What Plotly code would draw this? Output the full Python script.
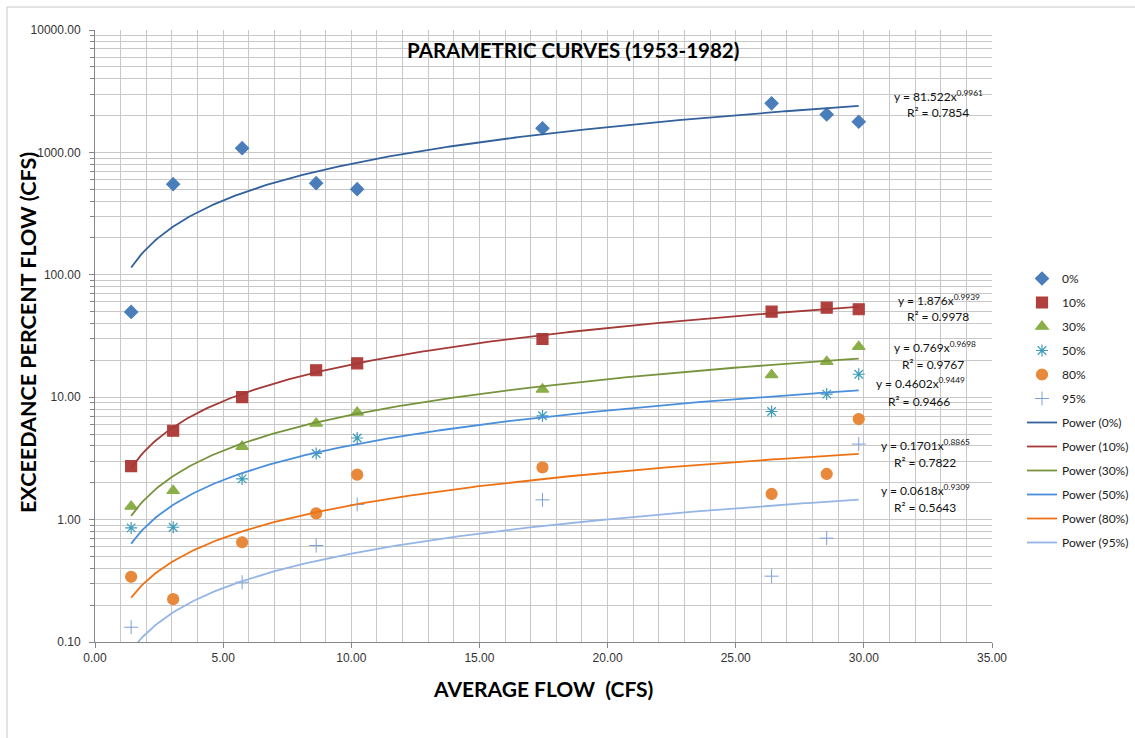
import numpy as np
import plotly.graph_objects as go

# ---------------- data ----------------
AVG_FLOW = [1.41, 3.05, 5.74, 8.63, 10.23, 17.46, 26.40, 28.55, 29.80]
P0 = [49.7, 550, 1082, 561, 501, 1575, 2519, 2040, 1780]
P10 = [2.73, 5.32, 10.0, 16.6, 18.9, 29.9, 50.0, 53.9, 52.3]
P30 = [1.28, 1.72, 3.95, 6.1, 7.5, 11.6, 15.2, 19.5, 25.9]
P50 = [0.855, 0.866, 2.15, 3.47, 4.64, 7.05, 7.64, 10.6, 15.4]
P80 = [0.341, 0.224, 0.653, 1.125, 2.33, 2.67, 1.62, 2.36, 6.63]
P95 = [0.132, None, 0.308, 0.614, 1.33, 1.45, 0.345, 0.705, 4.14]

SERIES_NAMES = ["0%", "10%", "30%", "50%", "80%", "95%"]
SERIES_VALUES = [P0, P10, P30, P50, P80, P95]
FIT_COEF = [81.522, 1.876, 0.769, 0.4602, 0.1701, 0.0618]
FIT_EXP = [0.9961, 0.9939, 0.9698, 0.9449, 0.8865, 0.9309]
FIT_R2 = ["0.7854", "0.9978", "0.9767", "0.9466", "0.7822", "0.5643"]

X_TICKS = [0, 5, 10, 15, 20, 25, 30, 35]
Y_TICKS = [0.1, 1, 10, 100, 1000, 10000]

# ---------------- styles ----------------
MARKER_SYMBOLS = ["diamond", "square", "triangle-up", "asterisk-open", "circle", "cross-thin-open"]
MARKER_COLORS = ["#4A7EBB", "#B0403D", "#8BAF48", "#3E9DBB", "#E8883A", "#7F9FD8"]
MARKER_SIZES = [10, 11, 11, 10, 11, 10]
MARKER_LW = [1.2, 1.2, 1.2, 1.2, 1.2, 1.0]
LINE_COLORS = ["#33619C", "#A33A37", "#77933C", "#4A8FDC", "#EE7214", "#94B5E6"]

# plot area in pixels
L, R, T, B = 95, 992, 30, 642
W, H = 1135, 738


def pxx(p):
    return (p - L) / (R - L)


def pxy(p):
    return (B - p) / (B - T)


fig = go.Figure()

for i, name in enumerate(SERIES_NAMES):
    fig.add_trace(go.Scatter(
        x=AVG_FLOW, y=SERIES_VALUES[i], mode="markers", name=name,
        legendgroup="m" + name,
        marker=dict(symbol=MARKER_SYMBOLS[i], size=MARKER_SIZES[i], color=MARKER_COLORS[i],
                    line=dict(width=MARKER_LW[i], color=MARKER_COLORS[i])),
    ))

x_fit = np.linspace(min(AVG_FLOW), max(AVG_FLOW), 300)
for i, name in enumerate(SERIES_NAMES):
    fig.add_trace(go.Scatter(
        x=x_fit, y=FIT_COEF[i] * x_fit ** FIT_EXP[i], mode="lines",
        name=f"Power ({name})", legendgroup="l" + name,
        line=dict(color=LINE_COLORS[i], width=1.8),
    ))

# equation labels (pixel positions of left edges / centres)
EQ_POS = [(892, 96, 905, 113), (896, 300, 905, 316), (892, 347, 900, 364),
          (874, 383, 886, 401), (879, 445, 892, 463), (879, 490, 892, 507)]
EQ_FONT = dict(family="Lato, Liberation Sans", size=12, color="#111")
annotations = []
for i in range(6):
    ex, ey, rx, ry = EQ_POS[i]
    annotations.append(dict(
        x=pxx(ex), y=pxy(ey), xref="paper", yref="paper", xanchor="left", yanchor="middle",
        text=f"y = {FIT_COEF[i]}x<sup>{FIT_EXP[i]}</sup>", showarrow=False, font=EQ_FONT))
    annotations.append(dict(
        x=pxx(rx), y=pxy(ry), xref="paper", yref="paper", xanchor="left", yanchor="middle",
        text=f"R² = {FIT_R2[i]}", showarrow=False, font=EQ_FONT))

annotations.append(dict(
    x=pxx(573), y=pxy(50), xref="paper", yref="paper", xanchor="center", yanchor="middle",
    text="<b>PARAMETRIC CURVES (1953-1982)</b>", showarrow=False,
    font=dict(family="Lato", size=20.5, color="#000")))
annotations.append(dict(
    x=pxx(543), y=pxy(688), xref="paper", yref="paper", xanchor="center", yanchor="middle",
    text="<b>AVERAGE FLOW\u00a0 (CFS)</b>", showarrow=False,
    font=dict(family="Lato", size=21, color="#000")))
annotations.append(dict(
    x=pxx(28), y=pxy(333), xref="paper", yref="paper", xanchor="center", yanchor="middle",
    text="<b>EXCEEDANCE PERCENT FLOW (CFS)</b>", showarrow=False, textangle=-90,
    font=dict(family="Lato", size=21.5, color="#000")))

fig.update_layout(
    width=W, height=H,
    margin=dict(l=L, r=W - R, t=T, b=H - B, autoexpand=False),
    paper_bgcolor="white", plot_bgcolor="white",
    showlegend=True,
    legend=dict(x=pxx(1022), y=pxy(264), xanchor="left", yanchor="top",
                font=dict(family="Lato, Liberation Sans", size=12, color="#222"),
                tracegroupgap=5, bgcolor="rgba(0,0,0,0)", itemwidth=30),
    annotations=annotations,
    shapes=[dict(type="rect", xref="paper", yref="paper",
                 x0=pxx(7), x1=pxx(W + 20), y0=pxy(H + 20), y1=pxy(7),
                 line=dict(color="#C8C8C8", width=1), fillcolor="rgba(0,0,0,0)", layer="below")],
)

fig.update_xaxes(
    range=[0, 35], tickvals=X_TICKS, tickformat=".2f",
    showgrid=True, gridcolor="#C8C8C8", gridwidth=1,
    minor=dict(dtick=1, showgrid=True, gridcolor="#C8C8C8", gridwidth=1),
    showline=True, linecolor="#868686", linewidth=1,
    ticks="outside", ticklen=5, tickcolor="#868686",
    tickfont=dict(family="Liberation Sans", size=12, color="#333"),
    zeroline=False,
)
fig.update_yaxes(
    type="log", range=[-1, 4], tickvals=Y_TICKS, tickformat=".2f",
    showgrid=True, gridcolor="#C8C8C8", gridwidth=1,
    minor=dict(dtick="D1", showgrid=True, gridcolor="#C8C8C8", gridwidth=1,
               ticks="outside", ticklen=4, tickcolor="#868686"),
    showline=True, linecolor="#868686", linewidth=1,
    ticks="outside", ticklen=5, tickcolor="#868686", ticklabelstandoff=6,
    tickfont=dict(family="Liberation Sans", size=12, color="#333"),
    zeroline=False,
)

fig.write_html("out.html", config={"displayModeBar": False},
               post_script="document.body.style.margin='0px';")
